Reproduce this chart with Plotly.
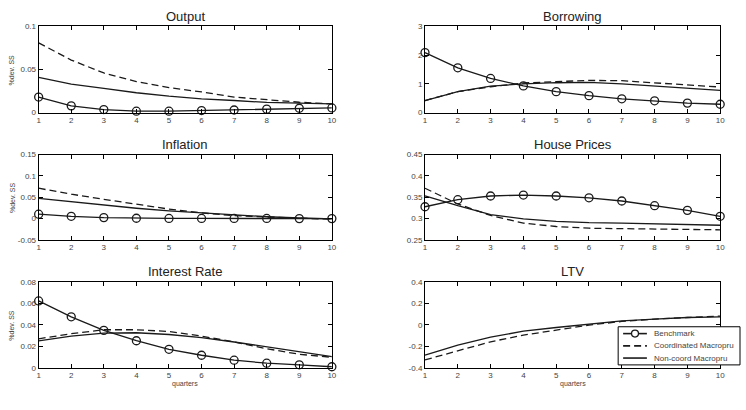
import plotly.graph_objects as go
from plotly.subplots import make_subplots

quarters = [1, 2, 3, 4, 5, 6, 7, 8, 9, 10]

titles = ["Output", "Borrowing", "Inflation", "House Prices", "Interest Rate", "LTV"]

# Output
out_bench = [0.018, 0.0078, 0.0035, 0.0016, 0.0016, 0.0023, 0.003, 0.004, 0.005, 0.0054]
out_coord = [0.081, 0.061, 0.046, 0.036, 0.029, 0.024, 0.018, 0.015, 0.012, 0.010]
out_nonc = [0.041, 0.033, 0.028, 0.023, 0.019, 0.016, 0.014, 0.0118, 0.011, 0.010]
# Borrowing
bor_bench = [2.09, 1.56, 1.19, 0.93, 0.73, 0.59, 0.48, 0.41, 0.33, 0.29]
bor_coord = [0.42, 0.73, 0.90, 1.03, 1.08, 1.12, 1.11, 1.04, 0.97, 0.89]
bor_nonc = [0.42, 0.73, 0.92, 1.00, 1.04, 1.05, 1.00, 0.93, 0.85, 0.77]
# Inflation
inf_bench = [0.010, 0.005, 0.002, 0.0004, 0.0, 0.0, 0.0, 0.0, -0.0004, -0.0004]
inf_coord = [0.071, 0.057, 0.045, 0.034, 0.022, 0.013, 0.0066, 0.0035, 0.0004, -0.002]
inf_nonc = [0.047, 0.039, 0.031, 0.024, 0.018, 0.013, 0.008, 0.004, 0.001, -0.001]
# House prices
hp_bench = [0.3275, 0.344, 0.3527, 0.355, 0.3527, 0.3485, 0.341, 0.330, 0.319, 0.305]
hp_coord = [0.371, 0.334, 0.307, 0.289, 0.281, 0.277, 0.276, 0.275, 0.275, 0.2733]
hp_nonc = [0.353, 0.330, 0.309, 0.299, 0.293, 0.290, 0.289, 0.287, 0.286, 0.284]
# Interest rate
ir_bench = [0.0622, 0.0474, 0.0348, 0.0252, 0.0172, 0.0117, 0.0071, 0.0043, 0.0028, 0.001]
ir_coord = [0.027, 0.0317, 0.0354, 0.0354, 0.0338, 0.0295, 0.024, 0.0178, 0.0126, 0.0098]
ir_nonc = [0.025, 0.0295, 0.0323, 0.0326, 0.031, 0.028, 0.024, 0.0194, 0.0145, 0.0105]
# LTV
ltv_coord = [-0.326, -0.239, -0.158, -0.096, -0.047, -0.003, 0.031, 0.053, 0.068, 0.081]
ltv_nonc = [-0.282, -0.189, -0.115, -0.059, -0.025, 0.003, 0.037, 0.053, 0.068, 0.074]

series = [
    (out_bench, out_coord, out_nonc),
    (bor_bench, bor_coord, bor_nonc),
    (inf_bench, inf_coord, inf_nonc),
    (hp_bench, hp_coord, hp_nonc),
    (ir_bench, ir_coord, ir_nonc),
    (None, ltv_coord, ltv_nonc),
]

y_ticks = [
    ([0, 0.05, 0.1], ["0", "0.05", "0.1"]),
    ([0, 1, 2, 3], ["0", "1", "2", "3"]),
    ([-0.05, 0, 0.05, 0.1, 0.15], ["-0.05", "0", "0.05", "0.1", "0.15"]),
    ([0.25, 0.3, 0.35, 0.4, 0.45], ["0.25", "0.3", "0.35", "0.4", "0.45"]),
    ([0, 0.02, 0.04, 0.06, 0.08], ["0", "0.02", "0.04", "0.06", "0.08"]),
    ([-0.4, -0.2, 0, 0.2, 0.4], ["-0.4", "-0.2", "0", "0.2", "0.4"]),
]

legend_names = ["Benchmark", "Coordinated Macropru", "Non-coord Macropru"]

W, H = 746, 410
col_px = [(37, 333), (427, 725)]
row_px = [(23, 111), (154, 241), (284, 372)]
title_px = [13, 144, 273]

LINE = "#1a1a1a"
TXT = "#444444"
FONT = "Liberation Sans, Arial, sans-serif"
DASH = "7px,4px"

fig = make_subplots(rows=3, cols=2)

for i, (bench, coord, nonc) in enumerate(series):
    r, c = i // 2 + 1, i % 2 + 1
    if bench is not None:
        fig.add_trace(go.Scatter(x=quarters, y=bench, mode="lines+markers", name=legend_names[0],
                                 line=dict(color=LINE, width=1.3),
                                 marker=dict(symbol="circle-open", size=8, color=LINE, line=dict(width=1.3)),
                                 cliponaxis=False, showlegend=False), row=r, col=c)
    fig.add_trace(go.Scatter(x=quarters, y=coord, mode="lines", name=legend_names[1],
                             line=dict(color=LINE, width=1.3, dash=DASH),
                             showlegend=False), row=r, col=c)
    fig.add_trace(go.Scatter(x=quarters, y=nonc, mode="lines", name=legend_names[2],
                             line=dict(color=LINE, width=1.3),
                             showlegend=False), row=r, col=c)

for i in range(6):
    r, c = i // 2, i % 2
    x0, x1 = col_px[c]
    y0, y1 = row_px[r]
    xa = "xaxis" if i == 0 else f"xaxis{i+1}"
    ya = "yaxis" if i == 0 else f"yaxis{i+1}"
    tv, tt = y_ticks[i]
    fig.layout[xa].update(domain=[x0 / W, x1 / W], range=[1, 10], tickvals=quarters,
                          ticks="inside", ticklen=4, tickcolor="#000", mirror="ticks",
                          showline=True, linecolor="#000", linewidth=1, showgrid=False, zeroline=False,
                          tickfont=dict(size=8, color=TXT, family=FONT))
    fig.layout[ya].update(domain=[1 - y1 / H, 1 - y0 / H], range=[tv[0], tv[-1]], tickvals=tv, ticktext=tt,
                          ticks="inside", ticklen=4, tickcolor="#000", mirror="ticks",
                          showline=True, linecolor="#000", linewidth=1, showgrid=False, zeroline=False,
                          tickfont=dict(size=8, color=TXT, family=FONT))
    fig.add_annotation(text=titles[i], x=(x0 + x1) / 2 / W, y=1 - title_px[r] / H, xref="paper", yref="paper",
                       xanchor="center", yanchor="middle", showarrow=False,
                       font=dict(size=13, color="#222", family=FONT))
    if c == 0:
        fig.add_annotation(text="%dev. SS", x=10 / W, y=1 - (y0 + y1) / 2 / H, xref="paper", yref="paper",
                           textangle=-90, xanchor="center", yanchor="middle", showarrow=False,
                           font=dict(size=7, color=TXT, family=FONT))
    if r == 2:
        fig.add_annotation(text="quarters", x=(x0 + x1) / 2 / W, y=1 - 389 / H, xref="paper", yref="paper",
                           xanchor="center", yanchor="middle", showarrow=False,
                           font=dict(size=7, color=TXT, family=FONT))

# Legend box (MATLAB-style), drawn in paper coordinates
lx0, lx1, ly0, ly1 = 622, 745, 330, 369
fig.add_shape(type="rect", xref="paper", yref="paper",
              x0=lx0 / W, x1=lx1 / W, y0=1 - ly1 / H, y1=1 - ly0 / H,
              line=dict(color="#000", width=1), fillcolor="white", layer="above")
entry_y = [337, 349.5, 362]
dashes = ["solid", DASH, "solid"]
for k, name in enumerate(legend_names):
    yy = 1 - entry_y[k] / H
    fig.add_shape(type="line", xref="paper", yref="paper", x0=627 / W, x1=651 / W, y0=yy, y1=yy,
                  line=dict(color=LINE, width=1.6, dash=dashes[k]), layer="above")
    if k == 0:
        fig.add_shape(type="circle", xref="paper", yref="paper",
                      x0=(639 - 3.5) / W, x1=(639 + 3.5) / W,
                      y0=1 - (entry_y[k] + 3.5) / H, y1=1 - (entry_y[k] - 3.5) / H,
                      line=dict(color=LINE, width=1.3), fillcolor="white", layer="above")
    fig.add_annotation(text=name, x=656 / W, y=yy, xref="paper", yref="paper",
                       xanchor="left", yanchor="middle", showarrow=False,
                       font=dict(size=8, color=TXT, family=FONT))

fig.update_layout(
    width=W, height=H, margin=dict(l=0, r=0, t=0, b=0),
    paper_bgcolor="white", plot_bgcolor="white", showlegend=False,
)

fig.write_html("out.html")
